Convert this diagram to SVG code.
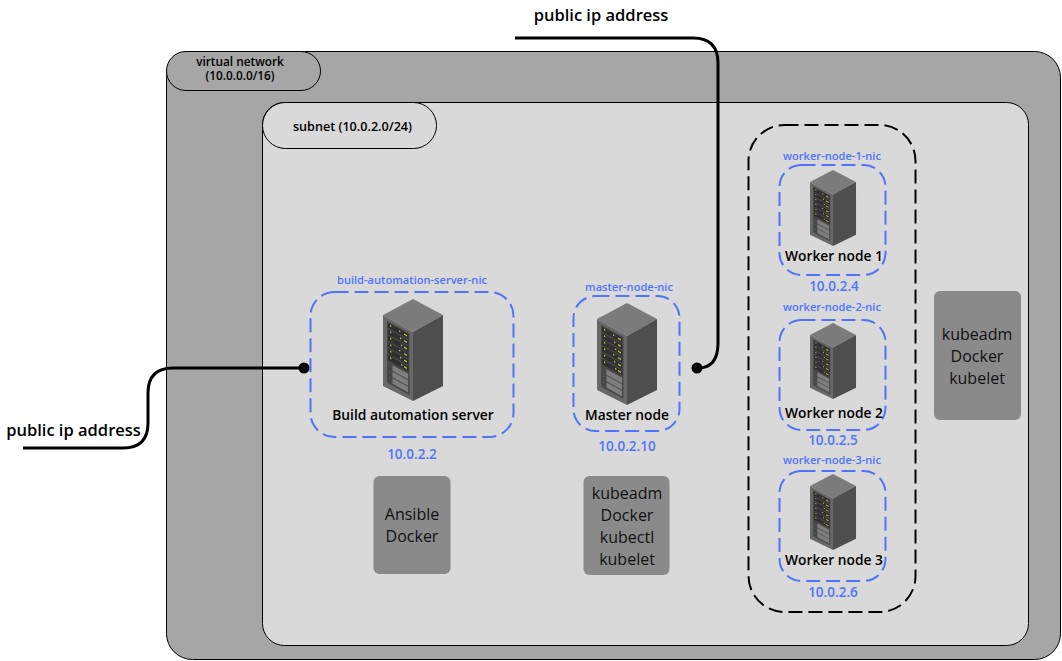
<svg xmlns="http://www.w3.org/2000/svg" width="1062" height="661" viewBox="0 0 1062 661">
<style>
text{font-family:"Open Sans","Noto Sans","DejaVu Sans",sans-serif;text-anchor:middle}
.b{font-weight:600;fill:#000}
.nic{fill:none;stroke:#4f74f9;stroke-width:2;stroke-dasharray:14 6}
.nl{fill:#4f74f9;font-size:11.1px;font-weight:600}
.ip{fill:#4f74f9;font-size:13.5px;font-weight:600}
.tools{fill:#8a8a8a}
.tt{fill:#111;font-size:16px}
.wire{fill:none;stroke:#000;stroke-width:3}
.n{font-size:13.8px}
.pub{font-size:16.5px}
</style>
<defs>
<g id="rack">
<path d="M30 0L60 16L30 33L0 16Z" fill="#7b7b7b"/>
<path d="M0 16L30 33V102L0 87Z" fill="#686868"/>
<path d="M60 16L30 33V102L60 87Z" fill="#4e4e4e"/>
<g transform="matrix(1 .55 0 1 0 16)">
<rect x="4" y="3.5" width="22.500" height="62" fill="#484848"/>
<g fill="#303030">
<rect x="5" y="5" width="20.500" height="5"/><rect x="5" y="11.500" width="20.500" height="5"/><rect x="5" y="18" width="20.500" height="5"/><rect x="5" y="24.500" width="20.500" height="5"/><rect x="5" y="31" width="20.500" height="5"/><rect x="5" y="37.500" width="20.500" height="5"/>
</g>
<g fill="#d8d040">
<rect x="7" y="6" width="1.300" height="1.300"/><rect x="16" y="6.500" width="1.300" height="1.300"/><rect x="21" y="7" width="3" height="1.300"/>
<rect x="7" y="12.500" width="1.300" height="1.300"/><rect x="17" y="13" width="1.300" height="1.300"/><rect x="21" y="13.500" width="3" height="1.300"/>
<rect x="7" y="19" width="1.300" height="1.300"/><rect x="18" y="19.500" width="1.300" height="1.300"/><rect x="21" y="20" width="3" height="1.300"/>
<rect x="7" y="25.500" width="1.300" height="1.300"/><rect x="16" y="26" width="1.300" height="1.300"/><rect x="21" y="26.500" width="3" height="1.300"/>
<rect x="7" y="32" width="1.300" height="1.300"/><rect x="17" y="32.500" width="1.300" height="1.300"/><rect x="21" y="33" width="3" height="1.300"/>
<rect x="7" y="38.500" width="1.300" height="1.300"/><rect x="18" y="39" width="1.300" height="1.300"/><rect x="21" y="39.500" width="3" height="1.300"/>
</g>
<g fill="#7e7e7e">
<rect x="9.500" y="45" width="15.500" height="5.500"/><rect x="9.500" y="51.500" width="15.500" height="5.500"/><rect x="9.500" y="58" width="15.500" height="5.500"/>
</g>
<rect x="6" y="47" width="1.300" height="1.300" fill="#8a3a3a"/><rect x="6" y="53" width="1.300" height="1.300" fill="#3f7a4a"/><rect x="6" y="59" width="1.300" height="1.300" fill="#3f7a4a"/>
</g>
</g>
</defs>

<g id="virtual-network">
<rect x="166.500" y="51.500" width="894" height="608" rx="26" fill="#a6a6a6" stroke="#000" stroke-width="1"/>
<rect x="166.500" y="51.500" width="154" height="39" rx="19.500" fill="#a6a6a6" stroke="#000" stroke-width="1"/>
<text class="b" x="240" y="65.500" font-size="11.800">virtual network</text>
<text class="b" x="240" y="80" font-size="11.800">(10.0.0.0/16)</text>
</g>

<g id="subnet">
<rect x="262.500" y="102.500" width="766" height="543" rx="22" fill="#d9d9d9" stroke="#000" stroke-width="1"/>
<rect x="262.500" y="102.500" width="174" height="46" rx="23" fill="#d9d9d9" stroke="#000" stroke-width="1"/>
<text class="b" x="352.500" y="131" font-size="12.600">subnet (10.0.2.0/24)</text>
</g>

<g id="worker-group">
<rect x="748.500" y="125" width="167" height="487" rx="36" fill="none" stroke="#000" stroke-width="2" stroke-dasharray="14 6"/>
</g>

<g id="build-automation-server">
<rect class="nic" x="310.500" y="292" width="203" height="145" rx="24"/>
<text class="nl" x="412" y="284">build-automation-server-nic</text>
<use href="#rack" x="383" y="299"/>
<text class="b n" x="413" y="420">Build automation server</text>
<text class="ip" x="412" y="459">10.0.2.2</text>
</g>

<g id="ansible-tools">
<rect class="tools" x="373.500" y="476" width="77" height="98" rx="6"/>
<text class="tt" x="412" y="520">Ansible</text>
<text class="tt" x="412" y="542">Docker</text>
</g>

<g id="master-node">
<rect class="nic" x="573.500" y="296" width="106" height="135" rx="22"/>
<text class="nl" x="629" y="291">master-node-nic</text>
<use href="#rack" x="597" y="303"/>
<text class="b n" x="627" y="420">Master node</text>
<text class="ip" x="627" y="451">10.0.2.10</text>
</g>

<g id="master-tools">
<rect class="tools" x="583.500" y="476" width="86" height="99" rx="6"/>
<text class="tt" x="627" y="499">kubeadm</text>
<text class="tt" x="627" y="521">Docker</text>
<text class="tt" x="627" y="543">kubectl</text>
<text class="tt" x="627" y="565">kubelet</text>
</g>

<g id="worker-node-1">
<rect class="nic" x="779.500" y="165" width="106" height="110" rx="22"/>
<text class="nl" x="832" y="160">worker-node-1-nic</text>
<use href="#rack" transform="translate(810 170) scale(.767 .745)"/>
<text class="b n" x="834" y="261">Worker node 1</text>
<text class="ip" x="834" y="291">10.0.2.4</text>
</g>

<g id="worker-node-2">
<rect class="nic" x="779.500" y="320" width="106" height="110" rx="22"/>
<text class="nl" x="832" y="311">worker-node-2-nic</text>
<use href="#rack" transform="translate(810 323) scale(.767 .745)"/>
<text class="b n" x="834" y="418">Worker node 2</text>
<text class="ip" x="833" y="445">10.0.2.5</text>
</g>

<g id="worker-node-3">
<rect class="nic" x="779.500" y="471" width="106" height="110" rx="22"/>
<text class="nl" x="832" y="464">worker-node-3-nic</text>
<use href="#rack" transform="translate(810 474) scale(.767 .745)"/>
<text class="b n" x="834" y="565">Worker node 3</text>
<text class="ip" x="833" y="597">10.0.2.6</text>
</g>

<g id="worker-tools">
<rect class="tools" x="934" y="291" width="87" height="129" rx="6"/>
<text class="tt" x="977" y="340">kubeadm</text>
<text class="tt" x="977" y="362">Docker</text>
<text class="tt" x="977" y="384">kubelet</text>
</g>

<g id="connectors">
<path class="wire" d="M23 448H123Q148 448 148 423V393Q148 368 173 368H304"/>
<circle cx="304" cy="368" r="5.500" fill="#000"/>
<path class="wire" d="M515 38H693Q718 38 718 63V343Q718 368 698 368"/>
<circle cx="697" cy="368" r="5.500" fill="#000"/>
</g>

<g id="labels">
<text class="b pub" x="73.500" y="436">public ip address</text>
<text class="b pub" x="601" y="21">public ip address</text>
</g>
</svg>
